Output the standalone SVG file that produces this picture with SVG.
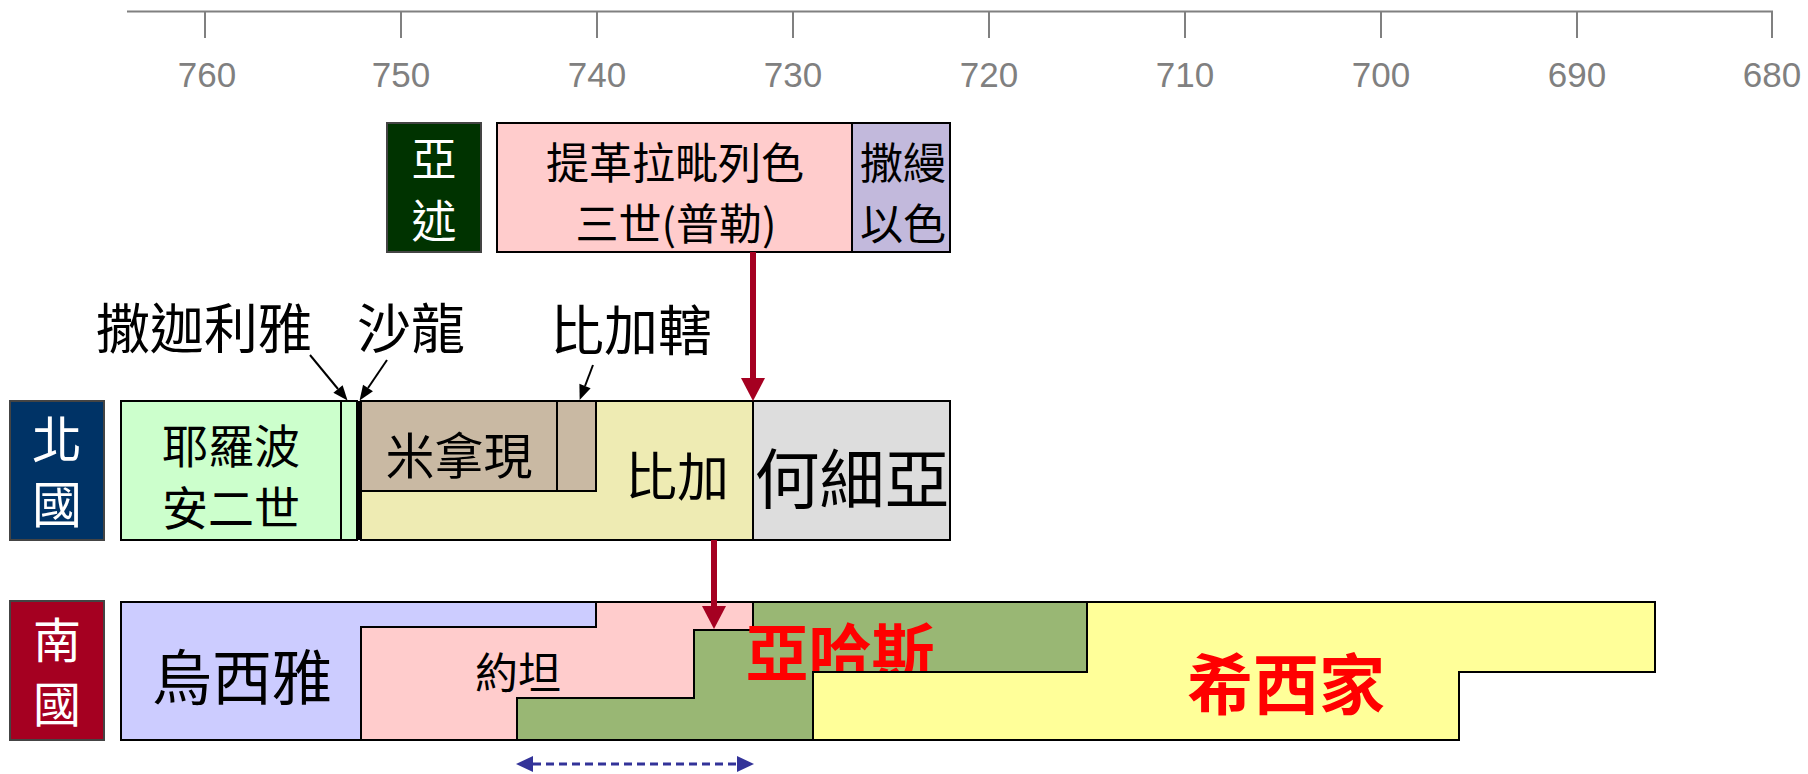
<svg xmlns="http://www.w3.org/2000/svg" width="1808" height="774" viewBox="0 0 1808 774">
<style>
  .ax { stroke:#808080; stroke-width:2; fill:none; }
  .axl { font-family:"Liberation Sans", Arial, sans-serif; font-size:35px; fill:#808080; text-anchor:middle; }
  .t { font-family:"Noto Sans CJK TC","Noto Sans CJK SC",sans-serif; fill:#000; text-anchor:middle; dominant-baseline:central; }
  .w { fill:#fff; }
  .r { fill:#ff0000; font-weight:bold; }
  .bx { stroke:#000; stroke-width:2; }
  .lbl { stroke:#444; stroke-width:2; }
  .blk { stroke:#000; stroke-width:2; fill:none; }
  .red { stroke:#a50021; stroke-width:6; fill:none; }
  .dash { stroke:#333399; stroke-width:3; fill:none; stroke-dasharray:8 5; }
</style>
<defs>
  <marker id="mBlk" markerUnits="userSpaceOnUse" markerWidth="16" markerHeight="14" viewBox="0 -7 15 14" refX="0" refY="0" orient="auto">
    <path d="M0,-6 L15,0 L0,6 z" fill="#000"/>
  </marker>
  <marker id="mRed" markerUnits="userSpaceOnUse" markerWidth="24" markerHeight="26" viewBox="0 -13 23 26" refX="0" refY="0" orient="auto">
    <path d="M0,-12 L23,0 L0,12 z" fill="#a50021"/>
  </marker>
  <marker id="mBlue" markerUnits="userSpaceOnUse" markerWidth="17" markerHeight="17" viewBox="0 -8 16 16" refX="0" refY="0" orient="auto-start-reverse">
    <path d="M0,-7.5 L16,0 L0,7.5 z" fill="#333399"/>
  </marker>
</defs>

<g id="axis">
  <line class="ax" x1="127" y1="11.5" x2="1773" y2="11.5"/>
  <path class="ax" d="M205,11.5 V38 M401,11.5 V38 M597,11.5 V38 M793,11.5 V38 M989,11.5 V38 M1185,11.5 V38 M1381,11.5 V38 M1577,11.5 V38 M1772,11.5 V38"/>
  <text class="axl" x="207" y="87">760</text>
  <text class="axl" x="401" y="87">750</text>
  <text class="axl" x="597" y="87">740</text>
  <text class="axl" x="793" y="87">730</text>
  <text class="axl" x="989" y="87">720</text>
  <text class="axl" x="1185" y="87">710</text>
  <text class="axl" x="1381" y="87">700</text>
  <text class="axl" x="1577" y="87">690</text>
  <text class="axl" x="1772" y="87">680</text>
</g>

<g id="assyria-label">
  <rect class="lbl" x="387" y="123" width="94" height="129" fill="#003300"/>
  <text class="t w" font-size="45"><tspan x="434" y="156">亞</tspan><tspan x="434" y="218">述</tspan></text>
</g>
<g id="tiglath">
  <rect class="bx" x="497" y="123" width="355" height="129" fill="#ffcccc"/>
  <text class="t" font-size="43"><tspan x="675" y="160">提革拉毗列色</tspan><tspan x="676" y="221">三世(普勒)</tspan></text>
</g>
<g id="shalmaneser">
  <rect class="bx" x="852" y="123" width="98" height="129" fill="#c2b9dc"/>
  <text class="t" font-size="43"><tspan x="903" y="160">撒縵</tspan><tspan x="903" y="221">以色</tspan></text>
</g>

<g id="israel-label">
  <rect class="lbl" x="10" y="401" width="94" height="139" fill="#003366"/>
  <text class="t w" font-size="50"><tspan x="57" y="436">北</tspan><tspan x="57" y="501">國</tspan></text>
</g>
<g id="jeroboam">
  <rect class="bx" x="121" y="401" width="220" height="139" fill="#ccffcc"/>
  <text class="t" font-size="46"><tspan x="231" y="443">耶羅波</tspan><tspan x="231" y="505">安二世</tspan></text>
</g>
<g id="zechariah">
  <rect class="bx" x="341" y="401" width="16" height="139" fill="#ccffcc"/>
  <text class="t" x="204" y="325" font-size="54">撒迦利雅</text>
</g>
<g id="shallum">
  <rect x="356" y="401" width="5" height="139" fill="#000"/>
  <text class="t" x="411" y="325" font-size="54">沙龍</text>
</g>
<g id="pekah">
  <rect class="bx" x="361" y="401" width="392" height="139" fill="#eeebb3"/>
  <text class="t" x="677" y="473" font-size="52">比加</text>
</g>
<g id="menahem">
  <rect class="bx" x="361" y="401" width="196" height="90" fill="#c9b9a3"/>
  <text class="t" x="459" y="452" font-size="49">米拿現</text>
</g>
<g id="pekahiah">
  <rect class="bx" x="557" y="401" width="39" height="90" fill="#c9b9a3"/>
  <text class="t" x="631" y="327" font-size="54">比加轄</text>
</g>
<g id="hoshea">
  <rect class="bx" x="753" y="401" width="197" height="139" fill="#dddddd"/>
  <text class="t" x="852" y="475" font-size="65">何細亞</text>
</g>

<g id="judah-label">
  <rect class="lbl" x="10" y="601" width="94" height="139" fill="#a50021"/>
  <text class="t w" font-size="48"><tspan x="57" y="637">南</tspan><tspan x="57" y="701">國</tspan></text>
</g>
<g id="uzziah">
  <polygon class="bx" points="121,602 596,602 596,627 361,627 361,740 121,740" fill="#ccccff"/>
  <text class="t" x="242" y="673" font-size="60">烏西雅</text>
</g>
<g id="jotham">
  <polygon class="bx" points="596,602 753,602 753,630 694,630 694,698 517,698 517,740 361,740 361,627 596,627" fill="#ffcccc"/>
  <text class="t" x="518" y="670" font-size="43">約坦</text>
</g>
<g id="ahaz">
  <polygon class="bx" points="753,602 1087,602 1087,672 813,672 813,740 517,740 517,698 694,698 694,630 753,630" fill="#99b774"/>
  <text class="t r" x="840" y="648" font-size="63">亞哈斯</text>
</g>
<g id="hezekiah">
  <polygon class="bx" points="1087,602 1655,602 1655,672 1459,672 1459,740 813,740 813,672 1087,672" fill="#ffff99"/>
  <text class="t r" x="1286" y="680" font-size="66">希西家</text>
</g>

<g id="connectors">
  <line class="blk" x1="310" y1="355" x2="338" y2="389" marker-end="url(#mBlk)"/>
  <line class="blk" x1="387" y1="360" x2="368" y2="388" marker-end="url(#mBlk)"/>
  <line class="blk" x1="593" y1="365" x2="585" y2="386" marker-end="url(#mBlk)"/>
  <line class="red" x1="753" y1="252" x2="753" y2="378" marker-end="url(#mRed)"/>
  <line class="red" x1="714" y1="540" x2="714" y2="606" marker-end="url(#mRed)"/>
  <line class="dash" x1="533" y1="764" x2="737" y2="764" marker-start="url(#mBlue)" marker-end="url(#mBlue)"/>
</g>
</svg>
